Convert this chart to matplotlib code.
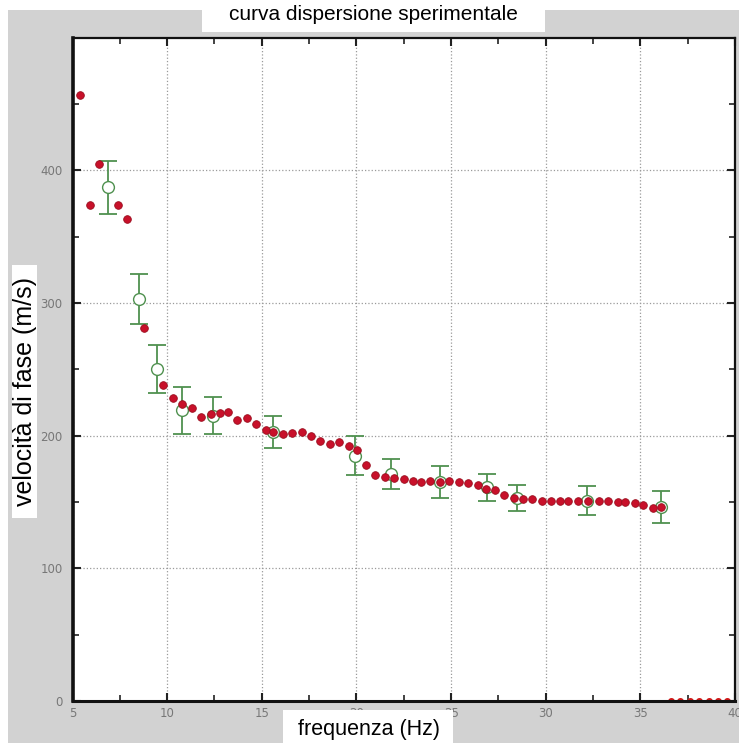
import matplotlib
matplotlib.use('Agg')
import matplotlib.pyplot as plt
from matplotlib.patches import Rectangle
from matplotlib.ticker import MultipleLocator

# punti della curva (rossi)
freq_curve = [5.4, 5.9, 6.4, 7.4, 7.9, 8.8, 9.8, 10.3, 10.8, 11.3, 11.8, 12.3, 12.8, 13.2,
              13.7, 14.2, 14.7, 15.2, 15.6, 16.1, 16.6, 17.1, 17.6, 18.1, 18.6, 19.1,
              19.6, 20.05, 20.5, 21.0, 21.5, 22.0, 22.5, 23.0, 23.4, 23.9, 24.4, 24.9,
              25.4, 25.9, 26.4, 26.85, 27.3, 27.8, 28.3, 28.8, 29.3, 29.8, 30.3, 30.75,
              31.2, 31.7, 32.25, 32.8, 33.3, 33.8, 34.2, 34.7, 35.15, 35.65, 36.1]
vel_curve = [457, 374, 405, 374, 363, 281, 238, 228, 224, 221, 214, 216, 217, 218,
             212, 213, 209, 204, 203, 201, 202, 203, 200, 196, 194, 195,
             192, 189, 178, 170, 169, 168, 167, 166, 165, 166, 165, 166,
             165, 164, 163, 160, 159, 155, 153, 152, 152, 151, 151, 150.6,
             151, 150.8, 151, 150.8, 150.6, 150.2, 150, 149.5, 147.5, 145.5, 146]

# punti a zero in fondo
freq_zero = [36.6, 37.1, 37.6, 38.1, 38.6, 39.1, 39.6]
vel_zero = [0, 0, 0, 0, 0, 0, 0]

# punti sperimentali con barre d'errore (verdi)
freq_exp = [6.9, 8.5, 9.45, 10.8, 12.4, 15.6, 19.9, 21.8, 24.4, 26.9, 28.5, 32.2, 36.1]
vel_exp = [387, 303, 250, 219, 215, 203, 185, 171, 165, 161, 153, 151, 146]
err_exp = [20, 19, 18, 18, 14, 12, 15, 11, 12, 10, 10, 11, 12]

W, H = 739, 747
fig = plt.figure(figsize=(W / 100, H / 100), dpi=100, facecolor='white')

# sfondo grigio
fig.add_artist(Rectangle((8 / W, 4 / H), 731 / W, 733 / H, transform=fig.transFigure,
                         facecolor='#d2d2d2', edgecolor='none', zorder=0))

ax = fig.add_axes([72.5 / W, 46 / H, 662.5 / W, 663.5 / H])
ax.set_facecolor('white')

ax.plot(freq_zero, vel_zero, 'o', color='#d01818', markersize=4, clip_on=True, zorder=2)
ax.errorbar(freq_exp, vel_exp, yerr=err_exp, fmt='o', color='#4f914f', ecolor='#4f914f',
            markerfacecolor='white', markeredgecolor='#4f914f', markersize=8.5,
            elinewidth=1.3, capsize=6.5, capthick=1.3, zorder=3)
ax.plot(freq_curve, vel_curve, 'o', color='#c8102a', markersize=5.5,
        markeredgecolor='#9a0f1f', markeredgewidth=0.6, zorder=4)

ax.set_xlim(5, 40)
ax.set_ylim(0, 500)
ax.xaxis.set_minor_locator(MultipleLocator(2.5))
ax.yaxis.set_minor_locator(MultipleLocator(50))
ax.set_yticks([0, 100, 200, 300, 400])
ax.set_xticks([5, 10, 15, 20, 25, 30, 35, 40])

ax.grid(True, which='major', linestyle=':', color='#9a9a9a', linewidth=0.9)
ax.tick_params(which='both', direction='in', top=True, right=True, color='#222222')
ax.tick_params(which='major', length=6, width=1.5, labelsize=8.5, labelcolor='#777777')
ax.tick_params(axis='x', which='major', pad=4)
ax.tick_params(axis='y', which='major', pad=7)
ax.tick_params(which='minor', length=4, width=1.2)
for s in ax.spines.values():
    s.set_color('#111111')
    s.set_linewidth(1.6)
ax.spines['left'].set_linewidth(2.6)
ax.spines['bottom'].set_linewidth(2.2)

# riquadri bianchi con le scritte
fig.add_artist(Rectangle((202 / W, 715 / H), 343 / W, 32 / H, transform=fig.transFigure,
                         facecolor='white', edgecolor='none', zorder=5))
fig.text(373 / W, (H - 15) / H, 'curva dispersione sperimentale', ha='center', va='center',
         fontsize=15, family='Liberation Sans', zorder=6)

fig.add_artist(Rectangle((12 / W, 229 / H), 25 / W, 253 / H, transform=fig.transFigure,
                         facecolor='white', edgecolor='none', zorder=5))
fig.text(25 / W, (H - 391) / H, 'velocità di fase (m/s)', ha='center', va='center',
         rotation=90, fontsize=18, family='Liberation Sans', zorder=6)

fig.add_artist(Rectangle((283 / W, 2 / H), 170 / W, 35 / H, transform=fig.transFigure,
                         facecolor='white', edgecolor='none', zorder=5))
fig.text(369 / W, (H - 729) / H, 'frequenza (Hz)', ha='center', va='center',
         fontsize=15.5, family='Liberation Sans', zorder=6)

fig.savefig('out.png', dpi=100, facecolor='white')
